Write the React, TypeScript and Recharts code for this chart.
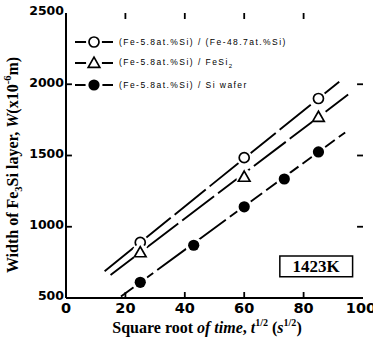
import {
  ComposedChart,
  Label,
  Legend,
  Line,
  ReferenceArea,
  ReferenceLine,
  Scatter,
  XAxis,
  YAxis,
} from "recharts";

// axis ticks
const xTicks = [0, 20, 40, 60, 80, 100];
const yTicks = [500, 1000, 1500, 2000, 2500];

// (Fe-5.8at%Si)/(Fe-48.7at%Si)
const openX = [25, 60, 85];
const openY = [890, 1485, 1900];
// (Fe-5.8at%Si)/FeSi2
const triX = [25, 60, 85];
const triY = [820, 1350, 1770];
// (Fe-5.8at%Si)/Si wafer
const filledX = [25, 43, 60, 73.5, 85];
const filledY = [610, 870, 1140, 1335, 1525];

// fitted lines (end points)
const openFitX = [13, 92];
const openFitY = [688, 2018];
const triFitX = [15, 95];
const triFitY = [662, 1928];
const filledFitX = [18.5, 94];
const filledFitY = [510, 1662];

const legendLabels = [
  "(Fe-5.8at.%Si) / (Fe-48.7at.%Si)",
  "(Fe-5.8at.%Si) / FeSi2",
  "(Fe-5.8at.%Si) / Si wafer",
];

// temperature box
const boxX = [72, 96.5];
const boxY = [650, 795];
const boxLabel = "1423K";

const zip = (xs: number[], ys: number[]) => xs.map((x, i) => ({ x, y: ys[i] }));

const openData = zip(openX, openY);
const triData = zip(triX, triY);
const filledData = zip(filledX, filledY);
const openFit = zip(openFitX, openFitY);
const triFit = zip(triFitX, triFitY);
const filledFit = zip(filledFitX, filledFitY);

const serif = "'Liberation Serif', 'Times New Roman', serif";
const sans = "'DejaVu Sans', sans-serif";

const X_MIN = 0;
const X_MAX = 100;
const Y_MIN = 500;
const Y_MAX = 2500;
// inward tick length, in axis units (about 6px)
const X_TICK_LEN = 2;
const Y_TICK_LEN = 42;

function OpenDot({ cx, cy }: any) {
  return (
    <g>
      <circle cx={cx} cy={cy} r={8} fill="#fff" />
      <circle cx={cx} cy={cy} r={5} fill="#fff" stroke="#000" strokeWidth={1.7} />
    </g>
  );
}

function TriDot({ cx, cy }: any) {
  const s = 5.8;
  return (
    <g>
      <circle cx={cx} cy={cy} r={8} fill="#fff" />
      <polygon
        points={`${cx},${cy - s} ${cx + s},${cy + s * 0.75} ${cx - s},${cy + s * 0.75}`}
        fill="#fff"
        stroke="#000"
        strokeWidth={1.7}
      />
    </g>
  );
}

function FilledDot({ cx, cy }: any) {
  return (
    <g>
      <circle cx={cx} cy={cy} r={8.5} fill="#fff" />
      <circle cx={cx} cy={cy} r={5.6} fill="#000" />
    </g>
  );
}

function BottomTick({ x, y, payload }: any) {
  return (
    <text
      x={x}
      y={y}
      dy="0.71em"
      textAnchor="middle"
      fontFamily={sans}
      fontWeight="bold"
      fontSize={14.5}
      fill="#000"
    >
      {payload.value}
    </text>
  );
}

function LeftTick({ x, y, payload }: any) {
  return (
    <text
      x={x}
      y={y - 2}
      dy="0.355em"
      textAnchor="end"
      fontFamily={sans}
      fontWeight="bold"
      fontSize={12.5}
      fill="#000"
    >
      {payload.value}
    </text>
  );
}

function legendSymbol(i: number) {
  if (i === 0) return <OpenDot cx={19} cy={8} />;
  if (i === 1) return <TriDot cx={19} cy={8} />;
  return <FilledDot cx={19} cy={8} />;
}

function renderLegend() {
  return (
    <div>
      {legendLabels.map((label, i) => (
        <div
          key={label}
          style={{ display: "flex", alignItems: "center", height: 21.5 }}
        >
          <svg width={40} height={16}>
            <line x1={0} y1={8} x2={38} y2={8} stroke="#000" strokeWidth={1.8} />
            {legendSymbol(i)}
          </svg>
          <span
            style={{
              fontFamily: "'Liberation Sans', Arial, sans-serif",
              fontSize: 8.5,
              letterSpacing: 1.45,
              marginLeft: 4,
              color: "#000",
              whiteSpace: "nowrap",
            }}
          >
            {i === 1 ? (
              <>
                (Fe-5.8at.%Si) / FeSi<sub style={{ fontSize: 6 }}>2</sub>
              </>
            ) : (
              label
            )}
          </span>
        </div>
      ))}
    </div>
  );
}

function YTitle() {
  return (
    <text
      transform="translate(18,165) rotate(-90)"
      textAnchor="middle"
      fontFamily={serif}
      fontWeight="bold"
      fontSize={16}
      fill="#000"
    >
      Width of Fe
      <tspan dy={4} fontSize={10.5}>3</tspan>
      <tspan dy={-4}>Si layer, </tspan>
      <tspan fontStyle="italic">W</tspan>
      (x10
      <tspan dy={-7} fontSize={10.5}>-6</tspan>
      <tspan dy={7}>m)</tspan>
    </text>
  );
}

function XTitle() {
  return (
    <text
      x={207}
      y={333}
      textAnchor="middle"
      fontFamily={serif}
      fontWeight="bold"
      fontSize={16}
      fill="#000"
    >
      Square root <tspan fontStyle="italic">of time</tspan>,{" "}
      <tspan fontStyle="italic">t</tspan>
      <tspan dy={-7} fontSize={10}>1/2</tspan>
      <tspan dy={7}> (</tspan>
      <tspan fontStyle="italic">s</tspan>
      <tspan dy={-7} fontSize={10}>1/2</tspan>
      <tspan dy={7}>)</tspan>
    </text>
  );
}

const tickStroke = { stroke: "#000", strokeWidth: 1.8 };

export default function App() {
  return (
    <div style={{ position: "absolute", left: 0, top: 0, background: "#fff" }}>
      <ComposedChart
        width={373}
        height={344}
        margin={{ top: 13, right: 10, bottom: 0, left: 0 }}
      >
        <XAxis
          xAxisId="b"
          type="number"
          dataKey="x"
          domain={[X_MIN, X_MAX]}
          ticks={xTicks}
          height={46}
          tickSize={0}
          tickMargin={5}
          stroke="#000"
          strokeWidth={2}
          tick={<BottomTick />}
          allowDataOverflow
        >
          <Label content={<XTitle />} />
        </XAxis>
        <XAxis
          xAxisId="t"
          type="number"
          orientation="top"
          domain={[X_MIN, X_MAX]}
          ticks={xTicks}
          height={0}
          tickSize={0}
          tick={false}
          stroke="#000"
          strokeWidth={2}
        />
        <YAxis
          yAxisId="l"
          type="number"
          domain={[Y_MIN, Y_MAX]}
          ticks={yTicks}
          width={66}
          tickSize={0}
          tickMargin={2}
          stroke="#000"
          strokeWidth={2}
          tick={<LeftTick />}
          allowDataOverflow
        >
          <Label content={<YTitle />} />
        </YAxis>
        <YAxis
          yAxisId="r"
          orientation="right"
          type="number"
          domain={[Y_MIN, Y_MAX]}
          ticks={yTicks}
          width={0}
          tickSize={0}
          tick={false}
          stroke="#000"
          strokeWidth={2}
        />
        <Legend
          layout="vertical"
          align="center"
          verticalAlign="middle"
          content={renderLegend}
          wrapperStyle={{ position: "absolute", top: 31, left: 75, width: "auto" }}
        />
        {/* inward tick marks on all four sides */}
        {xTicks.slice(1, -1).map((t) => (
          <ReferenceLine
            key={`xb${t}`}
            xAxisId="b"
            yAxisId="l"
            segment={[
              { x: t, y: Y_MIN },
              { x: t, y: Y_MIN + Y_TICK_LEN },
            ]}
            {...tickStroke}
          />
        ))}
        {xTicks.slice(1, -1).map((t) => (
          <ReferenceLine
            key={`xt${t}`}
            xAxisId="b"
            yAxisId="l"
            segment={[
              { x: t, y: Y_MAX },
              { x: t, y: Y_MAX - Y_TICK_LEN },
            ]}
            {...tickStroke}
          />
        ))}
        {yTicks.slice(1, -1).map((t) => (
          <ReferenceLine
            key={`yl${t}`}
            xAxisId="b"
            yAxisId="l"
            segment={[
              { x: X_MIN, y: t },
              { x: X_MIN + X_TICK_LEN, y: t },
            ]}
            {...tickStroke}
          />
        ))}
        {yTicks.slice(1, -1).map((t) => (
          <ReferenceLine
            key={`yr${t}`}
            xAxisId="b"
            yAxisId="l"
            segment={[
              { x: X_MAX, y: t },
              { x: X_MAX - X_TICK_LEN, y: t },
            ]}
            {...tickStroke}
          />
        ))}
        <ReferenceArea
          xAxisId="b"
          yAxisId="l"
          x1={boxX[0]}
          x2={boxX[1]}
          y1={boxY[0]}
          y2={boxY[1]}
          fill="#fff"
          fillOpacity={1}
          stroke="#000"
          strokeWidth={1.5}
          label={{
            value: boxLabel,
            position: "center",
            fontFamily: serif,
            fontWeight: "bold",
            fontSize: 17,
            fill: "#000",
          }}
        />
        <Line
          xAxisId="b"
          yAxisId="l"
          data={openFit}
          dataKey="y"
          type="linear"
          stroke="#000"
          strokeWidth={1.9}
          strokeDasharray="40 5"
          dot={false}
          activeDot={false}
          legendType="none"
          isAnimationActive={false}
        />
        <Line
          xAxisId="b"
          yAxisId="l"
          data={triFit}
          dataKey="y"
          type="linear"
          stroke="#000"
          strokeWidth={1.9}
          strokeDasharray="40 5"
          dot={false}
          activeDot={false}
          legendType="none"
          isAnimationActive={false}
        />
        <Line
          xAxisId="b"
          yAxisId="l"
          data={filledFit}
          dataKey="y"
          type="linear"
          stroke="#000"
          strokeWidth={1.9}
          strokeDasharray="40 5"
          dot={false}
          activeDot={false}
          legendType="none"
          isAnimationActive={false}
        />
        <Scatter
          xAxisId="b"
          yAxisId="l"
          data={openData}
          dataKey="y"
          shape={<OpenDot />}
          isAnimationActive={false}
        />
        <Scatter
          xAxisId="b"
          yAxisId="l"
          data={triData}
          dataKey="y"
          shape={<TriDot />}
          isAnimationActive={false}
        />
        <Scatter
          xAxisId="b"
          yAxisId="l"
          data={filledData}
          dataKey="y"
          shape={<FilledDot />}
          isAnimationActive={false}
        />
      </ComposedChart>
    </div>
  );
}
